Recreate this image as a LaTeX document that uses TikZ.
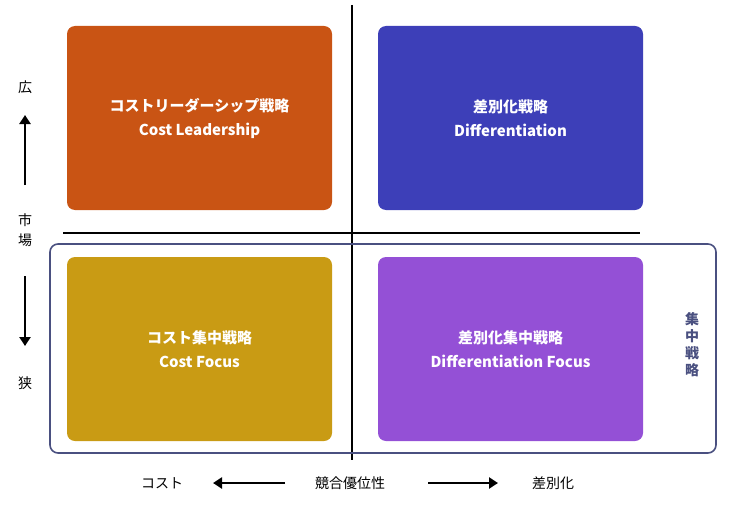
\documentclass[tikz,border=0pt]{standalone}
\usepackage{fontspec}
\setmainfont{Noto Sans CJK JP}
\usepackage{tikz}
\usetikzlibrary{positioning, arrows.meta}
\definecolor{orangebox}{HTML}{C95414}
\definecolor{bluebox}{HTML}{3D3FB8}
\definecolor{yellowbox}{HTML}{C99B14}
\definecolor{purplebox}{HTML}{9450D6}
\definecolor{focusline}{HTML}{4A5080}

\begin{document}
\begin{tikzpicture}[x=1pt, y=-1pt]
\tikzstyle{strategy}=[rectangle, rounded corners=8pt, minimum width=265pt, minimum height=184pt, text=white, font=\bfseries\fontsize{15}{24}\selectfont, align=center, inner sep=0pt]
\tikzstyle{axis}=[draw, line width=1.6pt]
\tikzstyle{dir}=[draw, line width=2.4pt, -{Triangle[length=9pt, width=11pt]}]
\tikzstyle{label}=[font=\fontsize{14}{16}\selectfont, inner sep=1pt]

\useasboundingbox (0,0) rectangle (730,508);

\node[strategy, fill=orangebox](leader) at (199.5, 118) {コストリーダーシップ戦略\\Cost Leadership};
\node[strategy, fill=bluebox](diff) at (510.5, 118) {差別化戦略\\Differentiation};
\node[strategy, fill=yellowbox](costfocus) at (199.5, 349) {コスト集中戦略\\Cost Focus};
\node[strategy, fill=purplebox](difffocus) at (510.5, 349) {差別化集中戦略\\Differentiation Focus};

\draw[axis] (352, 5) -- (352, 460);
\draw[axis] (63, 233) -- (640, 233);

\draw[draw=focusline, line width=1.6pt, rounded corners=8pt] (50, 244) rectangle (716, 453);
\node[label, text=focusline, font=\bfseries\fontsize{14}{17}\selectfont, align=center](focus) at (692, 345) {集\\中\\戦\\略};

\node[label](wide) at (25, 87) {広};
\node[label, align=center, font=\fontsize{14}{20}\selectfont](market) at (25, 230) {市\\場};
\node[label](narrow) at (25, 383) {狭};
\coordinate (up-s) at (25, 185);
\coordinate (up-e) at (25, 115);
\coordinate (dn-s) at (25, 276);
\coordinate (dn-e) at (25, 346);
\path[dir] (up-s) -- (up-e);
\path[dir] (dn-s) -- (dn-e);

\node[label](cost) at (162, 483) {コスト};
\node[label](adv) at (350, 483) {競合優位性};
\node[label](differ) at (553, 483) {差別化};
\path[dir] (285, 483) -- (213, 483);
\path[dir] (428, 483) -- (498, 483);

\end{tikzpicture}
\end{document}
